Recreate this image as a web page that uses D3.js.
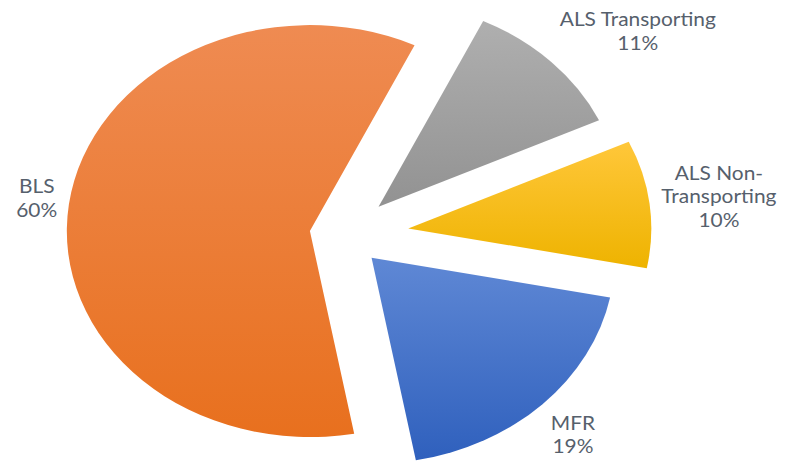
<!DOCTYPE html>
<html><head><meta charset="utf-8">
<script src="https://cdn.jsdelivr.net/npm/d3@7"></script>
<style>body{margin:0;background:#fff}svg{display:block}</style>
</head><body>
<svg id="c" width="799" height="468"></svg>
<script>
// ---- data ----
const categories = ["ALS Transporting", "ALS Non-Transporting", "MFR", "BLS"];
const values = [11, 10, 19, 60];
const percentLabels = ["11%", "10%", "19%", "60%"];
const labelLines = [["ALS Transporting"], ["ALS Non-", "Transporting"], ["MFR"], ["BLS"]];

// ---- style ----
const colorsTop = ["#afafaf", "#ffc73a", "#5f88d5", "#ef8b52"];
const colorsBottom = ["#929292", "#eeb300", "#2f60bd", "#e8701e"];
const explode = [40, 54, 32, 30];
const cx = 345, cy = 235, R = 206, sx = 1.18;
const startDeg = 25.5;
const fontSize = 19, lineH = 23.5, labelGap = 10, textStretch = 1.1;

const svg = d3.select("#c");
const defs = svg.append("defs");
values.forEach((v, i) => {
  const g = defs.append("linearGradient").attr("id", "g" + i)
    .attr("x1", 0).attr("y1", 0).attr("x2", 0).attr("y2", 1);
  g.append("stop").attr("offset", "0%").attr("stop-color", colorsTop[i]);
  g.append("stop").attr("offset", "100%").attr("stop-color", colorsBottom[i]);
});

const a0 = startDeg * Math.PI / 180;
const pie = d3.pie().sort(null).value(d => d).startAngle(a0).endAngle(a0 + 2 * Math.PI);
const arcs = pie(values);
const arc = d3.arc().innerRadius(0).outerRadius(R);

arcs.forEach((d, i) => {
  const mid = (d.startAngle + d.endAngle) / 2;
  const ox = cx + sx * explode[i] * Math.sin(mid);
  const oy = cy - explode[i] * Math.cos(mid);
  svg.append("g")
    .attr("transform", `translate(${ox},${oy}) scale(${sx},1)`)
    .append("path")
    .attr("d", arc(d))
    .attr("fill", `url(#g${i})`);

  // label
  const rr = R + explode[i] + labelGap;
  const s = Math.sin(mid), c = Math.cos(mid);
  const axp = cx + sx * rr * s, ayp = cy - rr * c;
  const lines = labelLines[i].concat([percentLabels[i]]);
  const t = svg.append("text")
    .attr("font-family", "Lato, 'Open Sans', sans-serif")
    .attr("font-size", fontSize)
    .attr("fill", "#56606c")
    .attr("text-anchor", "middle");
  const tsp = lines.map(L => t.append("tspan").text(L));
  const w = d3.max(tsp, n => n.node().getComputedTextLength()) * textStretch;
  const h = lines.length * lineH;
  const k = 1.414;
  const fx = Math.max(-1, Math.min(1, s * k));
  const fy = Math.max(-1, Math.min(1, c * k));
  const bx = axp + fx * w / 2;
  const by = ayp - fy * h / 2;
  const top = by - h / 2;
  t.attr("transform", `translate(${bx},0) scale(${textStretch},1)`);
  tsp.forEach((n, j) => n.attr("x", 0).attr("y", top + j * lineH + lineH / 2 + fontSize * 0.35));
});
</script>
</body></html>
